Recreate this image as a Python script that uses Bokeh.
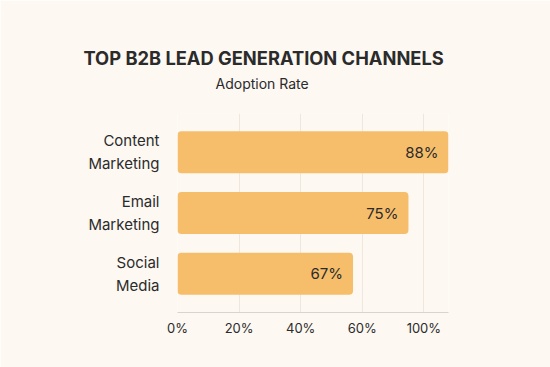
from bokeh.plotting import figure
from bokeh.models import FixedTicker, Title, ColumnDataSource, FactorRange
from bokeh.core.properties import value
from bokeh.embed import file_html
from bokeh.resources import INLINE

categories = ["Content\nMarketing", "Email\nMarketing", "Social\nMedia"]
bar_values = [88, 75, 57]
value_labels = ["88%", "75%", "67%"]
tick_values = [0, 20, 40, 60, 80]
tick_labels = ["0%", "20%", "40%", "60%", "100%"]

BG = "#FDF8F2"
BAR = "#F6BE6B"
TXT = "#2B2B2B"
FONT = "Inter"

src = ColumnDataSource(dict(cat=categories, val=bar_values, lab=value_labels))

p = figure(width=550, height=367, output_backend="svg", toolbar_location=None,
           y_range=FactorRange(factors=list(reversed(categories)), range_padding=0.09),
           x_range=(0, 88), min_border_left=177, min_border_right=102,
           min_border_top=113, min_border_bottom=55)
p.background_fill_color = BG
p.border_fill_color = BG
p.outline_line_color = None

p.hbar(y="cat", right="val", left=0, height=0.69, source=src, color=BAR,
       line_color=None, border_radius=4)
p.text(x="val", y="cat", text="lab", source=src, x_offset=-10, text_align="right",
       text_baseline="middle", text_font=value(FONT), text_font_size="15px",
       text_color=TXT)

p.xaxis.ticker = FixedTicker(ticks=tick_values)
p.xaxis.major_label_overrides = {t: l for t, l in zip(tick_values, tick_labels)}
p.xaxis.major_tick_line_color = None
p.xaxis.minor_tick_line_color = None
p.xaxis.axis_line_color = "#D9D4CD"
p.xaxis.major_label_text_font = FONT
p.xaxis.major_label_text_font_size = "13px"
p.xaxis.major_label_text_color = TXT
p.xaxis.major_label_standoff = 1

p.yaxis.axis_line_color = None
p.yaxis.major_tick_line_color = None
p.yaxis.minor_tick_line_color = None
p.yaxis.major_label_text_font = FONT
p.yaxis.major_label_text_font_size = "15px"
p.yaxis.major_label_text_color = TXT
p.yaxis.major_label_standoff = 12

p.xgrid.grid_line_color = "#EEE7DE"
p.ygrid.grid_line_color = None

# spacer between frame and subtitle
p.add_layout(Title(text=" ", standoff=3, text_font=FONT, text_font_size="10px",
                   text_color=BG), "above")
p.add_layout(Title(text="Adoption Rate", align="left", offset=38, standoff=9,
                   text_font=FONT, text_font_style="normal", text_font_size="14px",
                   text_color=TXT), "above")
p.add_layout(Title(text="TOP B2B LEAD GENERATION CHANNELS", align="left", offset=-94,
                   standoff=0, text_font=FONT, text_font_style="bold",
                   text_font_size="18.3px", text_color=TXT), "above")

html = file_html(p, INLINE)
html = html.replace("<body>", '<body style="background:%s">' % BG, 1)
open("out.html", "w").write(html)
